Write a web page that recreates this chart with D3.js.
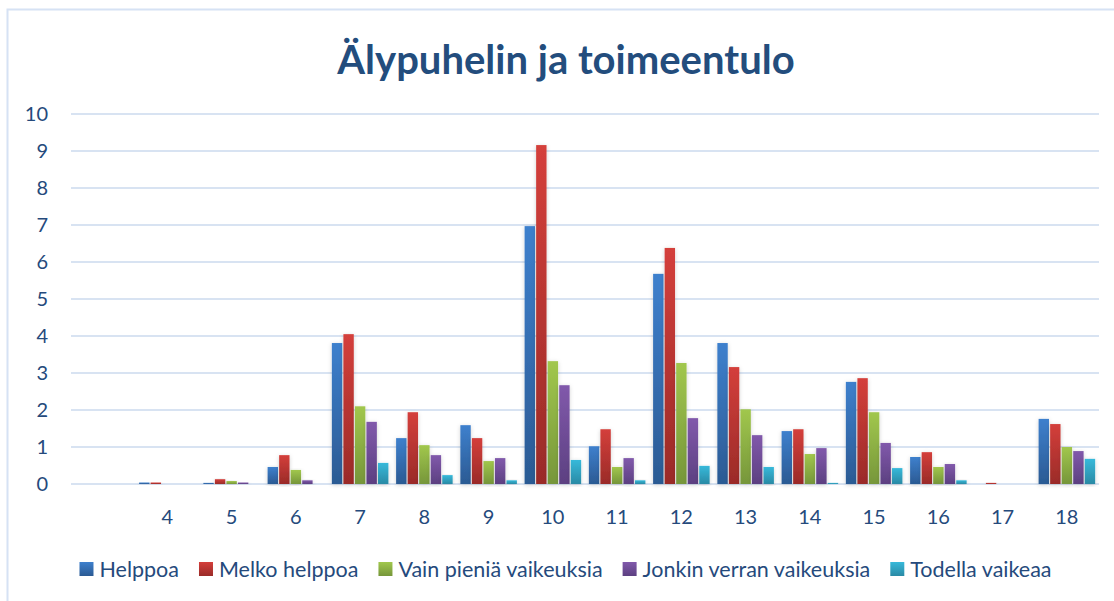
<!DOCTYPE html>
<html>
<head>
<meta charset="utf-8">
<script src="https://cdn.jsdelivr.net/npm/d3@7"></script>
<style>
  html, body { margin: 0; padding: 0; background: #fff; }
  svg { display: block; }
</style>
</head>
<body>
<svg id="chart" width="1114" height="601"></svg>
<script>
// categories (first slot is an empty category with no label)
const categories = ["", "4", "5", "6", "7", "8", "9", "10", "11", "12", "13", "14", "15", "16", "17", "18"];
const seriesNames = ["Helppoa", "Melko helppoa", "Vain pieniä vaikeuksia", "Jonkin verran vaikeuksia", "Todella vaikeaa"];
const helppoa   = [0, 0.04, 0.03, 0.46, 3.81, 1.24, 1.59, 6.97, 1.02, 5.68, 3.81, 1.43, 2.76, 0.73, 0,    1.76];
const melko     = [0, 0.04, 0.13, 0.78, 4.05, 1.94, 1.24, 9.16, 1.48, 6.38, 3.16, 1.48, 2.86, 0.86, 0.03, 1.62];
const vainPieni = [0, 0,    0.08, 0.38, 2.10, 1.05, 0.62, 3.32, 0.46, 3.27, 2.02, 0.81, 1.94, 0.46, 0,    1.00];
const jonkin    = [0, 0,    0.04, 0.10, 1.68, 0.78, 0.70, 2.67, 0.70, 1.78, 1.32, 0.97, 1.11, 0.54, 0,    0.89];
const todella   = [0, 0,    0,    0,    0.57, 0.24, 0.10, 0.65, 0.10, 0.49, 0.46, 0.03, 0.43, 0.10, 0,    0.68];
const yTicks = [0, 1, 2, 3, 4, 5, 6, 7, 8, 9, 10];

const seriesValues = [helppoa, melko, vainPieni, jonkin, todella];
const colorTop = ["#3e80cd", "#d43f3b", "#a1c74d", "#8159ab", "#37b9da"];
const colorBottom = ["#2b5a93", "#9a2b28", "#76963a", "#5c4081", "#2a8aa5"];

const svg = d3.select("svg#chart");
const width = 1114, height = 601;
const font = "Lato, 'Open Sans', sans-serif";
const textColor = "#254a7c";

const margin = {left: 71, right: 15, top: 114, bottom: 117};
const x0 = d3.scaleBand().domain(categories).range([margin.left, width - margin.right]).paddingInner(0.12).paddingOuter(0.06);
const x1 = d3.scaleBand().domain(d3.range(seriesNames.length)).range([0, x0.bandwidth()]).paddingInner(0.1);
const y = d3.scaleLinear().domain([0, 10]).range([height - margin.bottom, margin.top]);

const defs = svg.append("defs");
seriesNames.forEach((s, i) => {
  const g = defs.append("linearGradient").attr("id", "grad" + i)
    .attr("x1", 0).attr("y1", 0).attr("x2", 0).attr("y2", 1);
  g.append("stop").attr("offset", "0%").attr("stop-color", colorTop[i]);
  g.append("stop").attr("offset", "100%").attr("stop-color", colorBottom[i]);
});
const shadow = defs.append("filter").attr("id", "shadow")
  .attr("x", "-50%").attr("y", "-10%").attr("width", "200%").attr("height", "120%");
shadow.append("feDropShadow").attr("dx", 0).attr("dy", 1).attr("stdDeviation", 2)
  .attr("flood-color", "#000").attr("flood-opacity", 0.18);

// border of chart area
svg.append("path")
  .attr("d", "M7.5,601 V9.5 H1114")
  .attr("fill", "none").attr("stroke", "#d6e2f4").attr("stroke-width", 2);

// title
svg.append("text")
  .attr("x", 566).attr("y", 74)
  .attr("text-anchor", "middle")
  .attr("font-family", font).attr("font-weight", "bold").attr("font-size", 40)
  .attr("fill", "#234d7d")
  .text("Älypuhelin ja toimeentulo");

// gridlines
svg.append("g").selectAll("line")
  .data(yTicks).join("line")
  .attr("x1", margin.left).attr("x2", width - margin.right)
  .attr("y1", d => y(d)).attr("y2", d => y(d))
  .attr("stroke", "#d8e3f2").attr("stroke-width", 2);

// y axis labels
svg.append("g").selectAll("text")
  .data(yTicks).join("text")
  .attr("x", 48).attr("y", d => y(d)).attr("dy", "0.35em")
  .attr("text-anchor", "end")
  .attr("font-family", font).attr("font-size", 20).attr("fill", textColor)
  .text(d => d);

// x axis labels
svg.append("g").selectAll("text")
  .data(categories).join("text")
  .attr("x", d => x0(d) + x0.bandwidth() / 2).attr("y", 517).attr("dy", "0.35em")
  .attr("text-anchor", "middle")
  .attr("font-family", font).attr("font-size", 20).attr("fill", textColor)
  .text(d => d);

// bars
const groups = svg.append("g").selectAll("g")
  .data(categories).join("g")
  .attr("transform", d => `translate(${x0(d)},0)`);

groups.selectAll("rect")
  .data((d, ci) => seriesValues.map((vals, si) => ({si, v: vals[ci]})).filter(e => e.v > 0))
  .join("rect")
  .attr("x", d => x1(d.si))
  .attr("width", x1.bandwidth())
  .attr("y", d => y(d.v))
  .attr("height", d => Math.max(1, y(0) - y(d.v)))
  .attr("fill", d => `url(#grad${d.si})`)
  .attr("filter", "url(#shadow)");

// legend
const legend = svg.append("g");
const items = legend.selectAll("g").data(seriesNames).join("g");
items.append("rect")
  .attr("width", 14).attr("height", 14).attr("y", -7)
  .attr("fill", (d, i) => `url(#grad${i})`);
items.append("text")
  .attr("x", 20).attr("dy", "0.35em")
  .attr("font-family", font).attr("font-size", 21.5).attr("fill", textColor)
  .text(d => d);
let pos = 0;
const gap = 20;
items.each(function() {
  const w = 20 + d3.select(this).select("text").node().getComputedTextLength();
  d3.select(this).attr("transform", `translate(${pos},0)`);
  pos += w + gap;
});
const total = pos - gap;
legend.attr("transform", `translate(${565.5 - total / 2},569)`);
</script>
</body>
</html>
